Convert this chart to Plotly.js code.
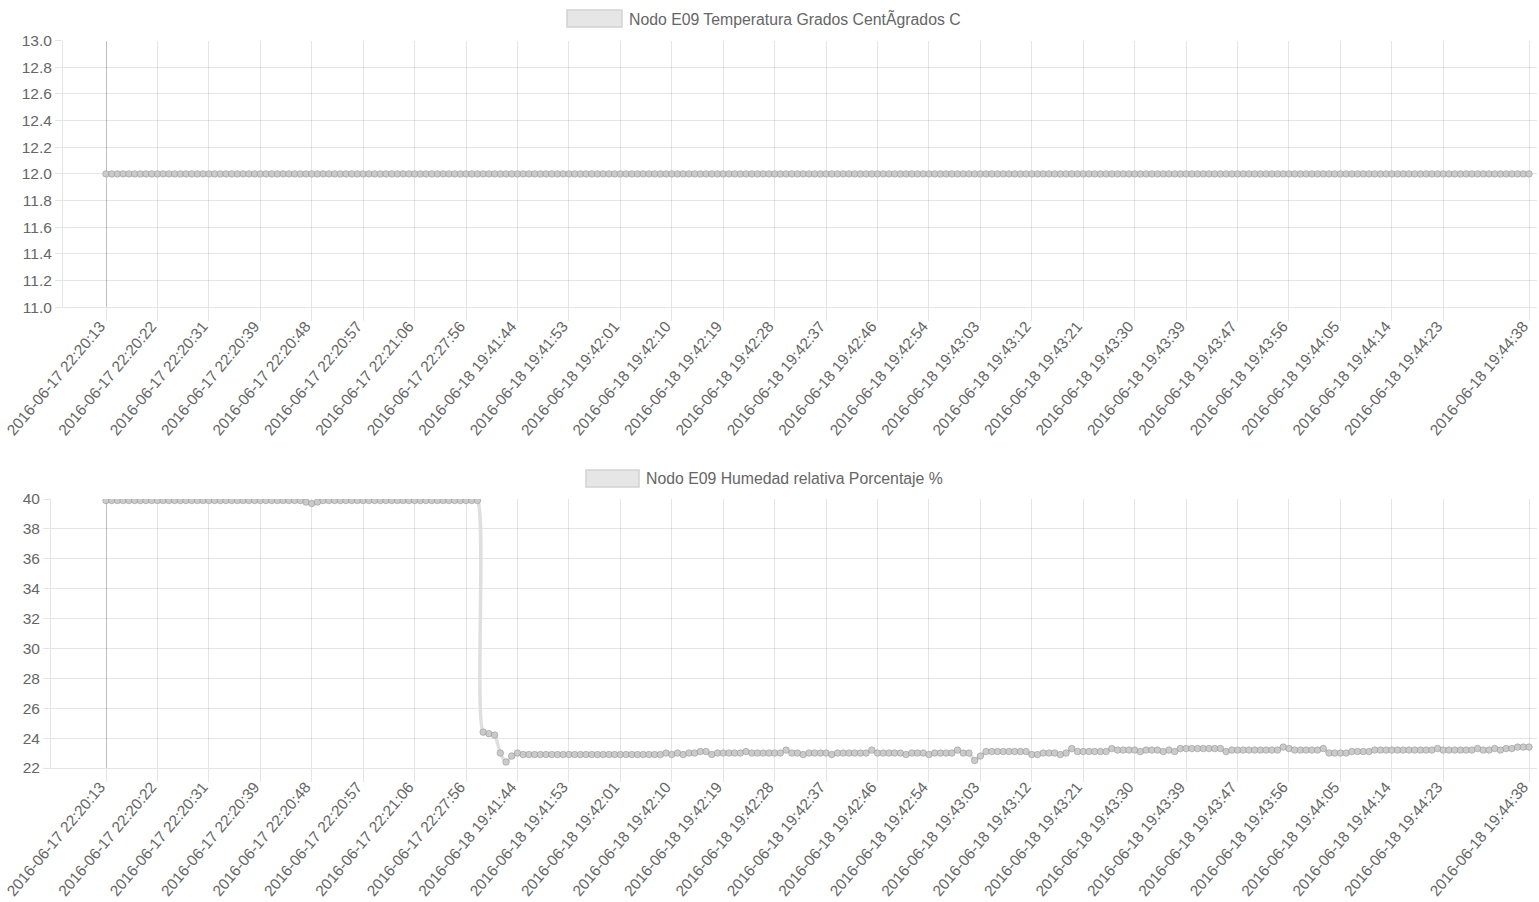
<!DOCTYPE html>
<html>
<head>
<meta charset="utf-8">
<script src="https://cdn.plot.ly/plotly-3.0.1.min.js"></script>
<style>
html, body { margin: 0; padding: 0; background: #ffffff; }
#chart { width: 1539px; height: 902px; }
</style>
</head>
<body>
<div id="chart"></div>
<script>
// ---------- DATA ----------
const tickLabels = [
  "2016-06-17 22:20:13", "2016-06-17 22:20:22", "2016-06-17 22:20:31", "2016-06-17 22:20:39",
  "2016-06-17 22:20:48", "2016-06-17 22:20:57", "2016-06-17 22:21:06", "2016-06-17 22:27:56",
  "2016-06-18 19:41:44", "2016-06-18 19:41:53", "2016-06-18 19:42:01", "2016-06-18 19:42:10",
  "2016-06-18 19:42:19", "2016-06-18 19:42:28", "2016-06-18 19:42:37", "2016-06-18 19:42:46",
  "2016-06-18 19:42:54", "2016-06-18 19:43:03", "2016-06-18 19:43:12", "2016-06-18 19:43:21",
  "2016-06-18 19:43:30", "2016-06-18 19:43:39", "2016-06-18 19:43:47", "2016-06-18 19:43:56",
  "2016-06-18 19:44:05", "2016-06-18 19:44:14", "2016-06-18 19:44:23", "2016-06-18 19:44:38"
];

const temperatureLabel = "Nodo E09 Temperatura Grados CentÃgrados C";
const humidityLabel = "Nodo E09 Humedad relativa Porcentaje %";

const temperature = [
  12.0,12.0,12.0,12.0,12.0,12.0,12.0,12.0,12.0,12.0,
  12.0,12.0,12.0,12.0,12.0,12.0,12.0,12.0,12.0,12.0,
  12.0,12.0,12.0,12.0,12.0,12.0,12.0,12.0,12.0,12.0,
  12.0,12.0,12.0,12.0,12.0,12.0,12.0,12.0,12.0,12.0,
  12.0,12.0,12.0,12.0,12.0,12.0,12.0,12.0,12.0,12.0,
  12.0,12.0,12.0,12.0,12.0,12.0,12.0,12.0,12.0,12.0,
  12.0,12.0,12.0,12.0,12.0,12.0,12.0,12.0,12.0,12.0,
  12.0,12.0,12.0,12.0,12.0,12.0,12.0,12.0,12.0,12.0,
  12.0,12.0,12.0,12.0,12.0,12.0,12.0,12.0,12.0,12.0,
  12.0,12.0,12.0,12.0,12.0,12.0,12.0,12.0,12.0,12.0,
  12.0,12.0,12.0,12.0,12.0,12.0,12.0,12.0,12.0,12.0,
  12.0,12.0,12.0,12.0,12.0,12.0,12.0,12.0,12.0,12.0,
  12.0,12.0,12.0,12.0,12.0,12.0,12.0,12.0,12.0,12.0,
  12.0,12.0,12.0,12.0,12.0,12.0,12.0,12.0,12.0,12.0,
  12.0,12.0,12.0,12.0,12.0,12.0,12.0,12.0,12.0,12.0,
  12.0,12.0,12.0,12.0,12.0,12.0,12.0,12.0,12.0,12.0,
  12.0,12.0,12.0,12.0,12.0,12.0,12.0,12.0,12.0,12.0,
  12.0,12.0,12.0,12.0,12.0,12.0,12.0,12.0,12.0,12.0,
  12.0,12.0,12.0,12.0,12.0,12.0,12.0,12.0,12.0,12.0,
  12.0,12.0,12.0,12.0,12.0,12.0,12.0,12.0,12.0,12.0,
  12.0,12.0,12.0,12.0,12.0,12.0,12.0,12.0,12.0,12.0,
  12.0,12.0,12.0,12.0,12.0,12.0,12.0,12.0,12.0,12.0,
  12.0,12.0,12.0,12.0,12.0,12.0,12.0,12.0,12.0,12.0,
  12.0,12.0,12.0,12.0,12.0,12.0,12.0,12.0,12.0,12.0,
  12.0,12.0,12.0,12.0,12.0,12.0,12.0,12.0,12.0,12.0
];

const humidity = [
  39.9,39.9,39.9,39.9,39.9,39.9,39.9,39.9,39.9,39.9,
  39.9,39.9,39.9,39.9,39.9,39.9,39.9,39.9,39.9,39.9,
  39.9,39.9,39.9,39.9,39.9,39.9,39.9,39.9,39.9,39.9,
  39.9,39.9,39.9,39.9,39.9,39.8,39.7,39.8,39.9,39.9,
  39.9,39.9,39.9,39.9,39.9,39.9,39.9,39.9,39.9,39.9,
  39.9,39.9,39.9,39.9,39.9,39.9,39.9,39.9,39.9,39.9,
  39.9,39.9,39.9,39.9,39.9,39.9,24.4,24.3,24.2,23.0,
  22.4,22.8,23.0,22.9,22.9,22.9,22.9,22.9,22.9,22.9,
  22.9,22.9,22.9,22.9,22.9,22.9,22.9,22.9,22.9,22.9,
  22.9,22.9,22.9,22.9,22.9,22.9,22.9,22.9,23.0,22.9,
  23.0,22.9,23.0,23.0,23.1,23.1,22.9,23.0,23.0,23.0,
  23.0,23.0,23.1,23.0,23.0,23.0,23.0,23.0,23.0,23.2,
  23.0,23.0,22.9,23.0,23.0,23.0,23.0,22.9,23.0,23.0,
  23.0,23.0,23.0,23.0,23.2,23.0,23.0,23.0,23.0,23.0,
  22.9,23.0,23.0,23.0,22.9,23.0,23.0,23.0,23.0,23.2,
  23.0,23.0,22.5,22.8,23.1,23.1,23.1,23.1,23.1,23.1,
  23.1,23.1,22.9,22.9,23.0,23.0,23.0,22.9,23.0,23.3,
  23.1,23.1,23.1,23.1,23.1,23.1,23.3,23.2,23.2,23.2,
  23.2,23.1,23.2,23.2,23.2,23.1,23.2,23.1,23.3,23.3,
  23.3,23.3,23.3,23.3,23.3,23.3,23.1,23.2,23.2,23.2,
  23.2,23.2,23.2,23.2,23.2,23.2,23.4,23.3,23.2,23.2,
  23.2,23.2,23.2,23.3,23.0,23.0,23.0,23.0,23.1,23.1,
  23.1,23.1,23.2,23.2,23.2,23.2,23.2,23.2,23.2,23.2,
  23.2,23.2,23.2,23.3,23.2,23.2,23.2,23.2,23.2,23.2,
  23.3,23.2,23.2,23.3,23.2,23.3,23.3,23.4,23.4,23.4
];

// ---------- DERIVED ----------
const labelStep = 9; // every 9th sample carries a label (plus the last one)
const pointIndex = humidity.map((_, i) => i);
const lastIndex = humidity.length - 1;
const tickIndex = tickLabels.map((_, j) => (j < tickLabels.length - 1 ? j * labelStep : lastIndex));

// ---------- LAYOUT HELPERS ----------
const W = 1539, H = 902;
const px = v => v / W;
const py = v => 1 - v / H;
const FONT = "Liberation Sans, Arial, Helvetica, sans-serif";
const TXT = "#666666";
const GRID = "rgba(0,0,0,0.1)";

// pixel frame of the two panels
const firstX = 106, lastX = 1529;
const step = (lastX - firstX) / lastIndex;
const rightEdge = 1537;

function xAxisDef(leftEdge, anchor) {
  return {
    anchor: anchor,
    domain: [px(leftEdge), px(rightEdge)],
    range: [-(firstX - leftEdge) / step, lastIndex + (rightEdge - lastX) / step],
    tickmode: "array",
    tickvals: tickIndex,
    ticktext: tickLabels,
    tickangle: -50,
    ticks: "outside",
    ticklen: 13,
    tickcolor: GRID,
    ticklabelstandoff: -10,
    ticklabelshift: -6,
    tickfont: { family: FONT, size: 15.4, color: TXT },
    showgrid: true,
    gridcolor: GRID,
    gridwidth: 1,
    zeroline: true,
    zerolinecolor: "rgba(0,0,0,0.25)",
    zerolinewidth: 1,
    showline: true,
    linecolor: GRID,
    linewidth: 1,
    automargin: false,
    fixedrange: true
  };
}

function yAxisDef(top, bottom, range, dtick, fmt, anchor) {
  return {
    anchor: anchor,
    domain: [py(bottom), py(top)],
    range: range,
    tick0: range[0],
    dtick: dtick,
    tickformat: fmt,
    ticks: "outside",
    ticklen: 7,
    tickcolor: GRID,
    tickfont: { family: FONT, size: 15.5, color: TXT },
    showgrid: true,
    gridcolor: GRID,
    gridwidth: 1,
    zeroline: false,
    showline: true,
    linecolor: GRID,
    linewidth: 1,
    automargin: false,
    fixedrange: true
  };
}

const lineStyle = { color: "rgba(220,220,220,0.9)", width: 3.5, shape: "spline", smoothing: 0.8 };
const markerStyle = { size: 6.5, color: "rgba(200,200,200,0.9)", line: { color: "rgba(150,150,150,0.6)", width: 1 } };

const traces = [
  {
    type: "scatter", mode: "lines+markers", name: temperatureLabel,
    x: pointIndex, y: temperature, xaxis: "x", yaxis: "y",
    line: lineStyle, marker: markerStyle, showlegend: false
  },
  {
    type: "scatter", mode: "lines+markers", name: humidityLabel,
    x: pointIndex, y: humidity, xaxis: "x2", yaxis: "y2",
    line: lineStyle, marker: markerStyle, showlegend: false
  }
];

const legendBox = (x0, x1, y0, y1) => ({
  type: "rect", xref: "paper", yref: "paper",
  x0: px(x0), x1: px(x1), y0: py(y1), y1: py(y0),
  fillcolor: "#e6e6e6", line: { color: "#d2d2d2", width: 1.5 }
});

const legendText = (x, y, text) => ({
  xref: "paper", yref: "paper", x: px(x), y: py(y),
  xanchor: "left", yanchor: "middle", showarrow: false,
  text: text, font: { family: FONT, size: 15.8, color: TXT }
});

const layout = {
  width: W, height: H,
  margin: { l: 0, r: 0, t: 0, b: 0, pad: 0 },
  paper_bgcolor: "#ffffff",
  plot_bgcolor: "#ffffff",
  showlegend: false,
  xaxis: xAxisDef(63, "y"),
  yaxis: yAxisDef(40.5, 307.3, [11, 13], 0.2, ".1f", "x"),
  xaxis2: xAxisDef(51, "y2"),
  yaxis2: yAxisDef(499, 768, [22, 40], 2, "d", "x2"),
  shapes: [
    legendBox(567, 622, 10, 27),
    legendBox(586, 639, 470, 487)
  ],
  annotations: [
    legendText(627, 18.5, temperatureLabel),
    legendText(644, 478.5, humidityLabel)
  ]
};

Plotly.newPlot("chart", traces, layout, { staticPlot: true, displayModeBar: false, responsive: false });
</script>
</body>
</html>
